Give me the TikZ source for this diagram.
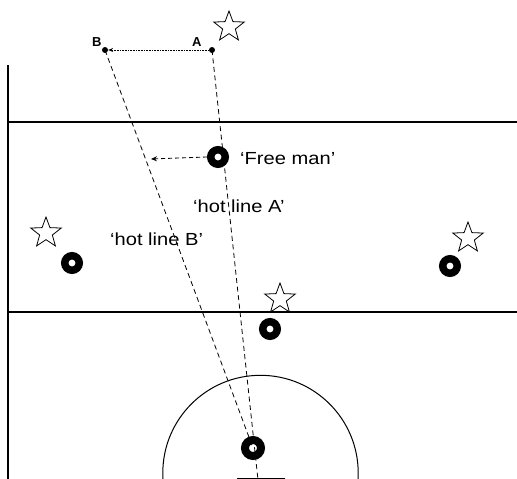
\documentclass[tikz,border=0pt]{standalone}
\usepackage{fontspec}
\setmainfont{Liberation Sans}
\usetikzlibrary{shapes.geometric,arrows.meta}
\tikzset{
  field/.style={line width=1.1pt,black},
  ring/.style={circle,draw,line width=7.5pt,minimum size=14.5pt,inner sep=0pt},
  bigring/.style={circle,draw,line width=8pt,minimum size=16pt,inner sep=0pt},
  starnode/.style={star,star points=5,star point ratio=2.4,draw,line width=0.8pt,minimum size=32pt,inner sep=0pt},
  dotnode/.style={circle,fill,inner sep=0pt,minimum size=6pt},
  hot/.style={dashed,dash pattern=on 5pt off 3.5pt,line width=0.8pt},
  lbl/.style={inner sep=0pt,anchor=base west,font=\fontsize{17.5}{20}\selectfont},
  ptlbl/.style={inner sep=0pt,anchor=base west,font=\fontsize{13}{15}\selectfont\bfseries}
}
\newcommand\wide[1]{\scalebox{1.15}[1]{#1}}
\begin{document}
\begin{tikzpicture}[x=1pt,y=-1pt]
\useasboundingbox (0,0) rectangle (517,479);
\clip (0,0) rectangle (517,479);
% field
\draw[field] (8,65) -- (8,479);
\draw[field] (8,122) -- (517,122);
\draw[field] (8,312) -- (517,312);
\draw[line width=1pt] (260.5,473) circle[radius=97.7];
\draw[line width=1pt] (237,478) -- (285,478);
% points
\node[dotnode] (A) at (212,50) {};
\node[dotnode] (B) at (105,50) {};
\node[ptlbl] (Alab) at (192,46) {A};
\node[ptlbl] (Blab) at (92,46) {B};
% free ends
\coordinate (endA) at (258,480);
\coordinate (tip) at (151,159);
% lines under rings
\draw[hot] (A.center) -- (endA);
\draw[hot] (B.center) -- (253,448);
% players
\node[ring] (free) at (218,157) {};
\node[ring] (p1) at (72,263) {};
\node[ring] (p2) at (450,266) {};
\node[ring] (p3) at (270,329) {};
\node[bigring] (bot) at (253,448) {};
% arrows
\draw[line width=0.8pt,dash pattern=on 0.8pt off 0.8pt,-{Stealth[length=5pt,width=4pt]}] (A) -- (B);
\draw[hot,dash pattern=on 4pt off 3pt,-{Stealth[length=6pt,width=5pt]}] (free.west) -- (tip);
% stars
\node[starnode] (s1) at (229,27) {};
\node[starnode] (s2) at (46,233) {};
\node[starnode] (s3) at (468,238) {};
\node[starnode] (s4) at (280,299) {};
% labels
\node[lbl] (tfree) at (240,164) {\wide{‘Free man’}};
\node[lbl] (tA) at (193,212) {\wide{‘hot line A’}};
\node[lbl] (tB) at (110,245) {\wide{‘hot line B’}};
\end{tikzpicture}
\end{document}
